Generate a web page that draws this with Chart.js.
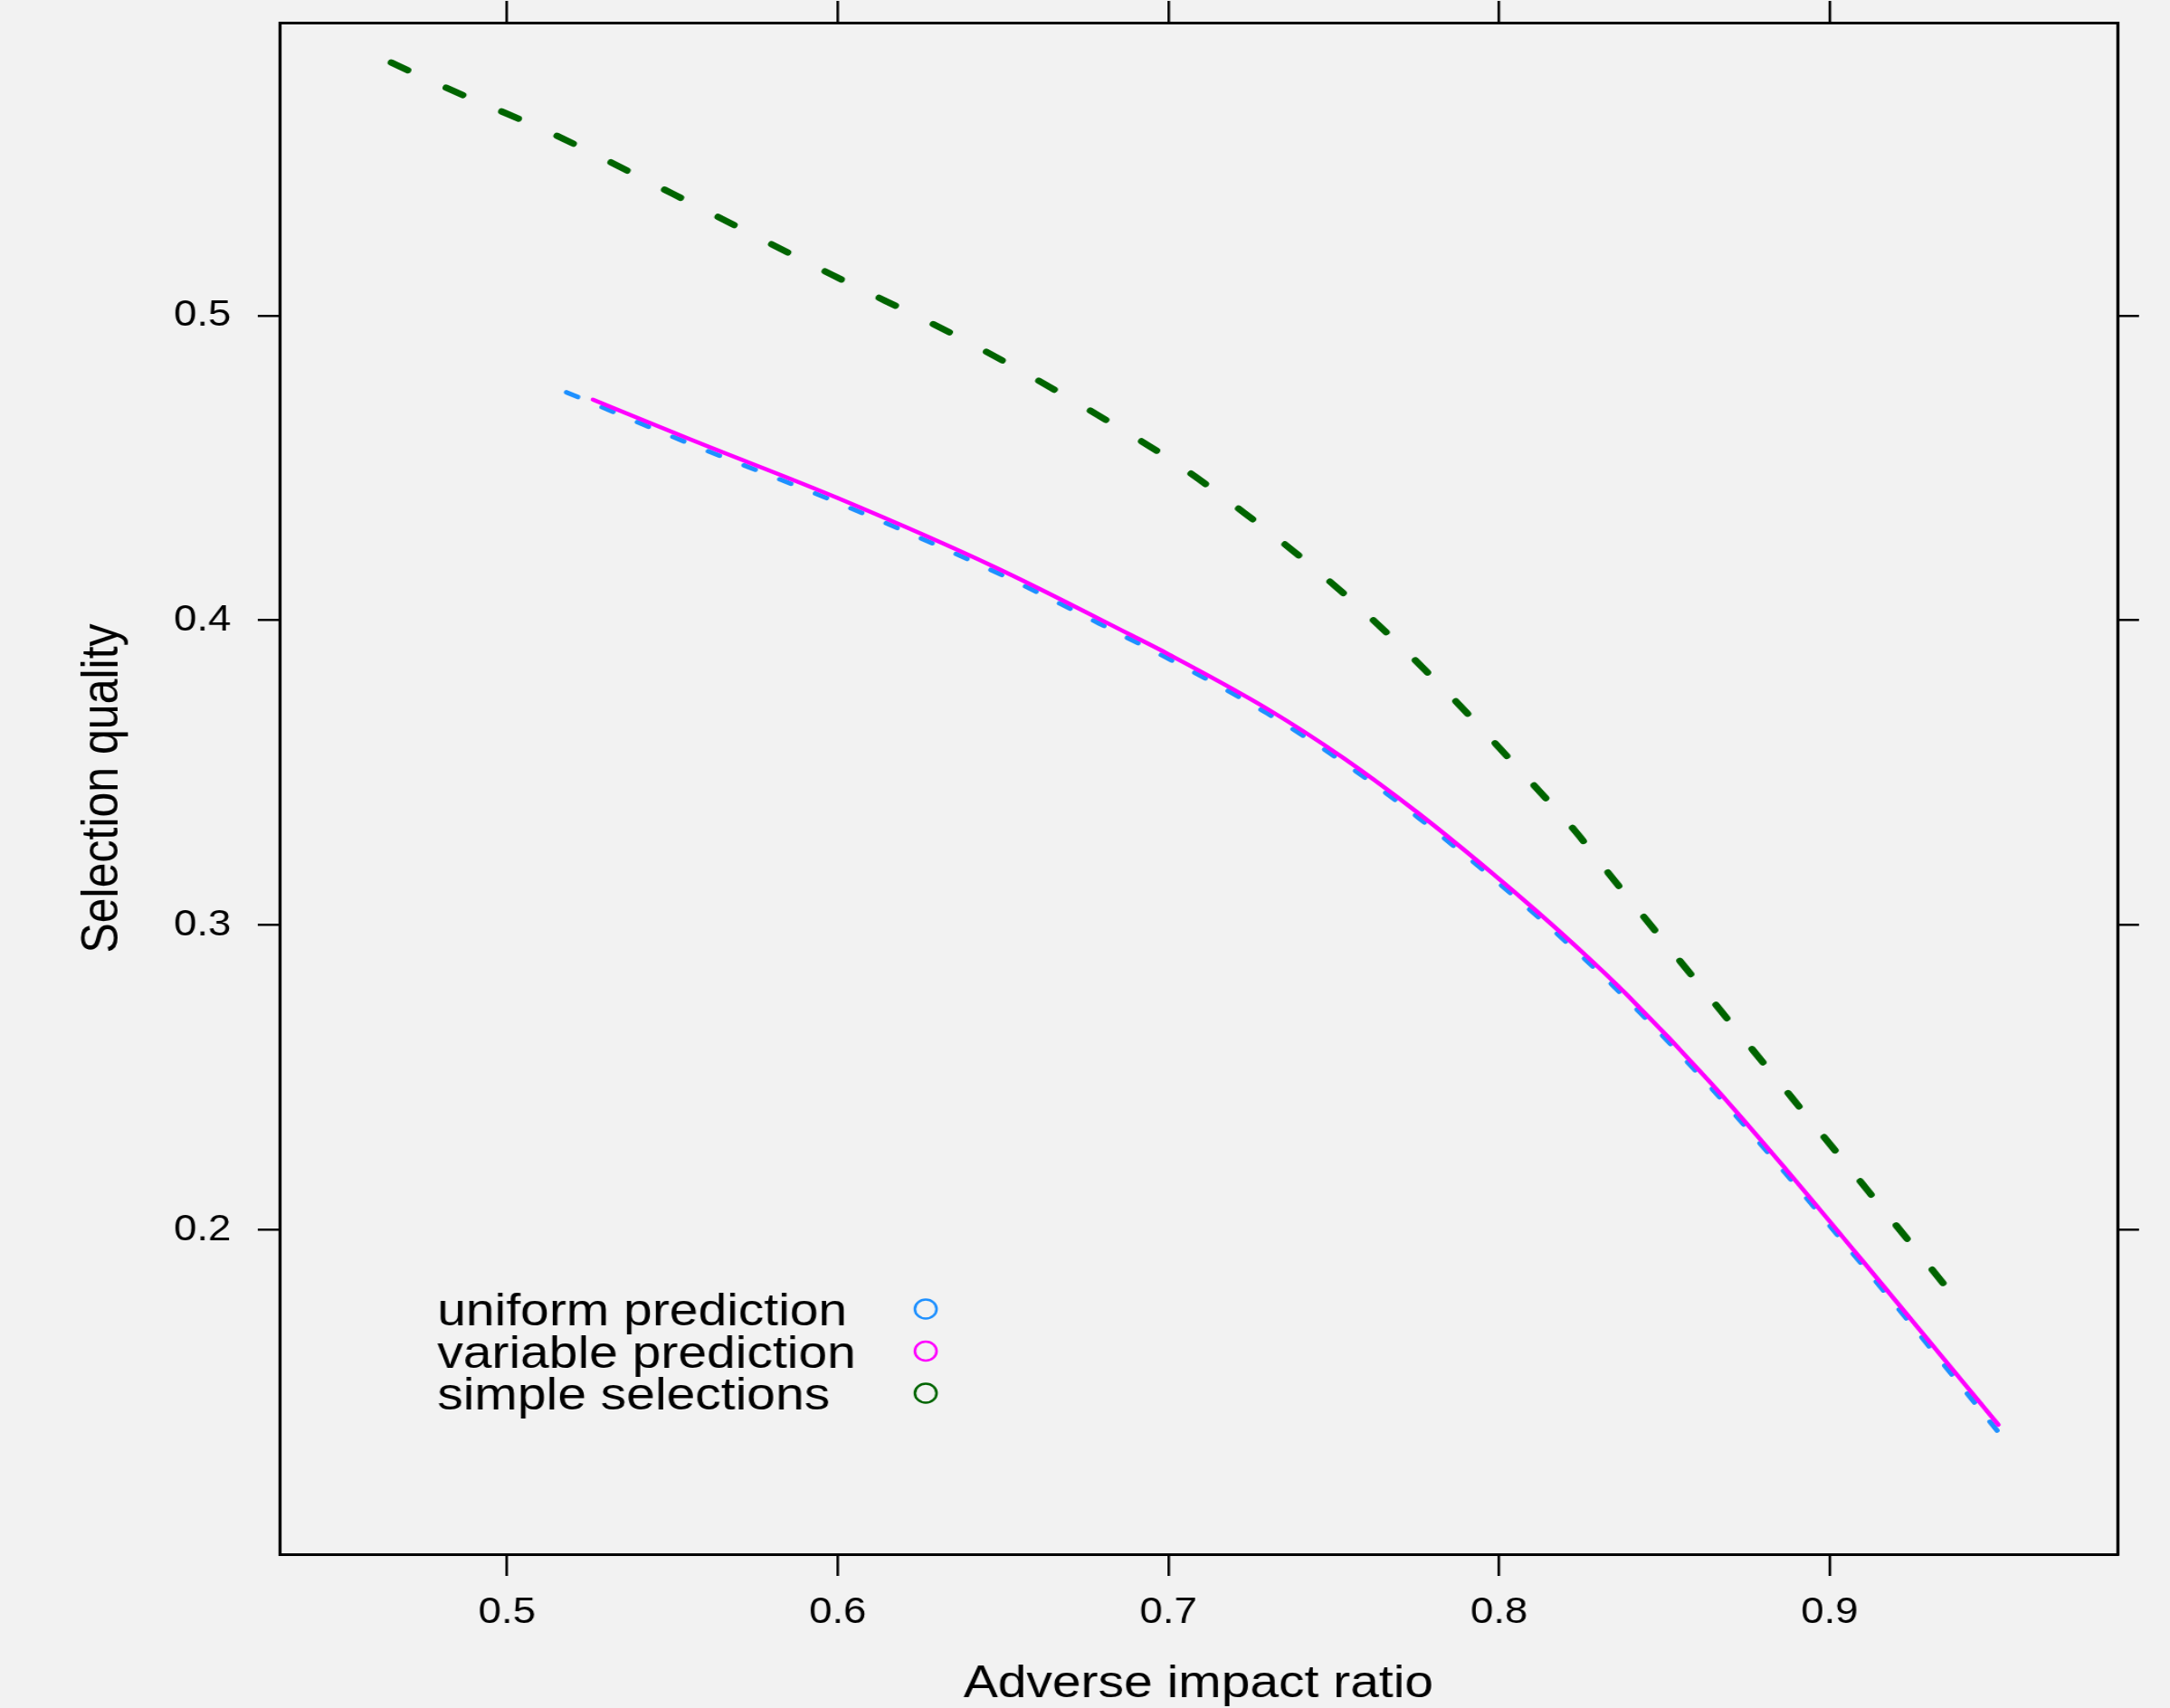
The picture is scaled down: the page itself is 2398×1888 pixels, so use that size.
<!DOCTYPE html>
<html>
<head>
<meta charset="utf-8">
<script src="https://cdn.jsdelivr.net/npm/chart.js@4.4.1/dist/chart.umd.min.js"></script>
<style>
  html, body { margin: 0; padding: 0; background: #f2f2f2; overflow: hidden; }
  /* the reference is a bit wider than tall, so draw narrow and stretch */
  #wrap { position: relative; width: 2104px; height: 1888px; transform: scaleX(1.1397); transform-origin: 0 0; }
</style>
</head>
<body>
<div id="wrap"><canvas id="myChart"></canvas></div>
<script>
const seriesNames = ['uniform prediction', 'variable prediction', 'simple selections'];

// uniform prediction (blue, dashed)
const uniformX = [0.518, 0.556, 0.600, 0.648, 0.689, 0.700, 0.730, 0.753, 0.776, 0.798, 0.812, 0.826, 0.839, 0.864, 0.887, 0.919, 0.9515];
const uniformY = [0.4748, 0.4576, 0.4386, 0.4157, 0.3935, 0.3874, 0.3694, 0.3533, 0.3349, 0.3155, 0.3025, 0.2888, 0.2753, 0.2468, 0.2181, 0.1765, 0.1330];

// variable prediction (magenta, solid)
const variableX = [0.526, 0.556, 0.600, 0.648, 0.689, 0.700, 0.730, 0.753, 0.776, 0.798, 0.812, 0.826, 0.839, 0.864, 0.887, 0.919, 0.951];
const variableY = [0.4724, 0.4591, 0.4401, 0.4172, 0.3950, 0.3889, 0.3709, 0.3548, 0.3364, 0.3170, 0.3040, 0.2903, 0.2768, 0.2483, 0.2196, 0.1780, 0.1361];

// simple selections (dark green, dashed)
const simpleX = [0.465, 0.480, 0.515, 0.550, 0.598, 0.640, 0.682, 0.703, 0.723, 0.744, 0.765, 0.786, 0.807, 0.823, 0.833, 0.870, 0.915, 0.935];
const simpleY = [0.5830, 0.5755, 0.5590, 0.5400, 0.5135, 0.4910, 0.4652, 0.4510, 0.4352, 0.4172, 0.3970, 0.3745, 0.3500, 0.3309, 0.3172, 0.2680, 0.2083, 0.1816];

const xTicks = [0.5, 0.6, 0.7, 0.8, 0.9];
const yTicks = [0.2, 0.3, 0.4, 0.5];
const xMin = 0.4312, xMax = 0.987;
const yMin = 0.0936, yMax = 0.5961;

const fam = "'Liberation Sans', Arial, Helvetica, sans-serif";
const colors = ['#1E90FF', '#FF00FF', '#006400'];

function toPts(xs, ys) {
  return xs.map((x, i) => ({x: x, y: ys[i]}));
}

function axis(pos, ticks, min, max, size, labels, title) {
  const horiz = pos === 'top' || pos === 'bottom';
  return {
    type: 'linear',
    position: pos,
    axis: horiz ? 'x' : 'y',
    min: min,
    max: max,
    afterBuildTicks: s => { s.ticks = ticks.map(v => ({value: v})); },
    afterFit: s => {
      if (horiz) s.height = size; else s.width = size;
      // no extra room for half labels at the ends
      s.paddingTop = 0; s.paddingBottom = 0; s.paddingLeft = 0; s.paddingRight = 0;
    },
    grid: { drawOnChartArea: false, drawTicks: true, tickLength: horiz ? 24 : 21, color: '#000', lineWidth: 2.5 },
    border: { display: true, color: '#000', width: 3 },
    ticks: {
      display: labels,
      autoSkip: false,
      maxRotation: 0,
      color: '#000',
      padding: horiz ? 17 : 26,
      font: { family: fam, size: 40 },
      callback: v => v.toFixed(1)
    },
    title: title ? {
      display: true,
      text: title,
      color: '#000',
      font: { family: fam, size: 50, lineHeight: 1.2 },
      padding: horiz ? {top: 0, bottom: -4} : {top: 70, bottom: 0}
    } : { display: false }
  };
}

const bgPlugin = {
  id: 'bg',
  beforeDraw(chart) {
    const c = chart.ctx;
    c.save();
    c.fillStyle = '#f2f2f2';
    c.fillRect(0, 0, chart.width, chart.height);
    c.restore();
  }
};

// key inside the panel: text first, open circle after it
const keyPlugin = {
  id: 'key',
  afterDraw(chart) {
    const c = chart.ctx;
    const textX = 424, circX = 897.6, firstY = 1447, step = 46.5;
    c.save();
    c.font = '50px ' + fam;
    c.textAlign = 'left';
    c.textBaseline = 'alphabetic';
    seriesNames.forEach((name, i) => {
      const cy = firstY + i * step;
      c.fillStyle = '#000';
      c.fillText(name, textX, cy + 18);
      c.beginPath();
      c.arc(circX, cy, 10.5, 0, Math.PI * 2);
      c.strokeStyle = colors[i];
      c.lineWidth = 2.5;
      c.stroke();
    });
    c.restore();
  }
};

const ctx = document.getElementById('myChart');

let myChart = new Chart(ctx, {
  type: 'line',
  data: {
    datasets: [{
      label: seriesNames[0],
      data: toPts(uniformX, uniformY),
      borderColor: colors[0],
      borderWidth: 5,
      borderDash: [12, 26],
      borderCapStyle: 'round',
      cubicInterpolationMode: 'monotone',
      pointRadius: 0,
      fill: false,
      order: 1
    }, {
      label: seriesNames[1],
      data: toPts(variableX, variableY),
      borderColor: colors[1],
      borderWidth: 4.5,
      borderCapStyle: 'round',
      cubicInterpolationMode: 'monotone',
      pointRadius: 0,
      fill: false,
      order: 0
    }, {
      label: seriesNames[2],
      data: toPts(simpleX, simpleY),
      borderColor: colors[2],
      borderWidth: 7,
      borderDash: [18, 42],
      borderCapStyle: 'round',
      cubicInterpolationMode: 'monotone',
      pointRadius: 0,
      fill: false,
      order: 2
    }]
  },
  options: {
    responsive: true,
    maintainAspectRatio: false,
    animation: false,
    devicePixelRatio: 1,
    layout: { padding: 0 },
    scales: {
      x: axis('bottom', xTicks, xMin, xMax, 170, true, 'Adverse impact ratio'),
      x2: axis('top', xTicks, xMin, xMax, 25, false, null),
      y: axis('left', yTicks, yMin, yMax, 271, true, 'Selection quality'),
      y2: axis('right', yTicks, yMin, yMax, 51, false, null)
    },
    plugins: {
      legend: { display: false },
      tooltip: { enabled: false },
      title: { display: false }
    }
  },
  plugins: [bgPlugin, keyPlugin]
});
</script>
</body>
</html>
